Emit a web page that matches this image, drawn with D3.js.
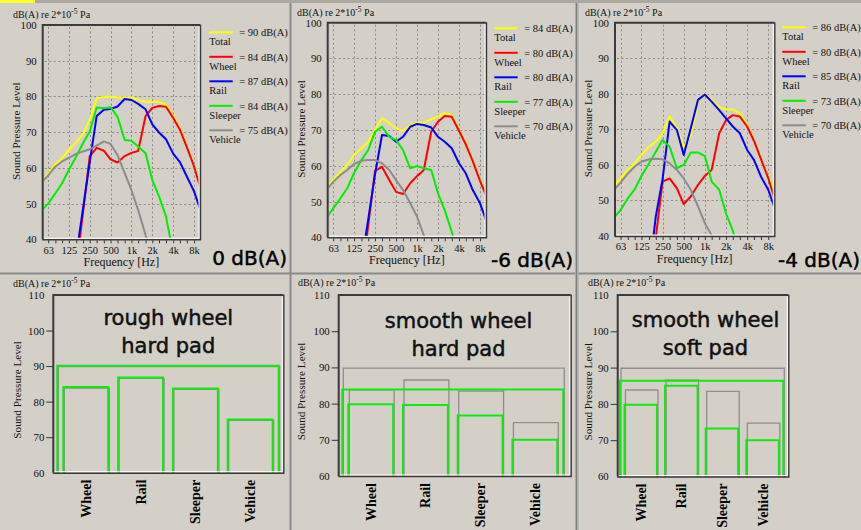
<!DOCTYPE html>
<html>
<head>
<meta charset="utf-8">
<script src="https://cdn.jsdelivr.net/npm/d3@7"></script>
<style>
  html, body { margin: 0; padding: 0; background: #d4d0c8; }
  svg { display: block; }
</style>
</head>
<body>
<svg id="chart" width="861" height="530"></svg>
<script>
// ---- data -------------------------------------------------------------
// third-octave band centre frequencies [Hz]
const bands = [50, 63, 80, 100, 125, 160, 200, 250, 315, 400, 500, 630, 800,
               1000, 1250, 1600, 2000, 2500, 3150, 4000, 5000, 6300, 8000, 10000];
const octaveTicks  = [63, 125, 250, 500, 1000, 2000, 4000, 8000];
const octaveLabels = ["63", "125", "250", "500", "1k", "2k", "4k", "8k"];
const spectrumLevels = [40, 50, 60, 70, 80, 90, 100];
const barLevels = [60, 70, 80, 90, 100, 110];

const sources = ["Total", "Wheel", "Rail", "Sleeper", "Vehicle"];
const barCategories = ["Wheel", "Rail", "Sleeper", "Vehicle"];

// band spectra, dB(A); null = below the plotted range
const roughHardTotal   = [55.6, 58.4, 61.0, 62.7, 65.0, 67.2, 69.4, 73.4, 79.5, 79.8, 80.0, 79.8, 79.7, 79.8, 79.0, 78.5, 78.5, 78.5, 77.6, 74.6, 71.2, 66.0, 60.6, 54.2];
const roughHardWheel   = [null, null, null, null, null, 32.0, 47.3, 63.2, 65.6, 64.8, 62.4, 61.5, 63.3, 64.2, 64.7, 74.5, 76.8, 77.3, 77.1, 74.0, 70.7, 65.8, 60.4, 54.0];
const roughHardRail    = [null, null, null, null, null, 35.5, 48.5, 61.5, 74.5, 76.3, 76.5, 77.2, 79.3, 79.0, 77.9, 76.4, 72.2, 69.9, 68.0, 64.0, 61.6, 57.6, 53.4, 48.0];
const roughHardSleeper = [48.0, 50.0, 52.9, 55.7, 59.4, 63.2, 66.9, 70.1, 76.9, 76.7, 77.0, 74.3, 67.8, 67.6, 66.0, 64.1, 56.6, 52.0, 46.4, 36.0, null, null, null, null];
const roughHardVehicle = [55.8, 57.9, 60.4, 61.8, 62.8, 63.9, 64.6, 65.2, 66.2, 67.4, 66.7, 63.6, 58.5, 53.8, 48.2, 41.2, 34.0, null, null, null, null, null, null, null];

const smoothHardTotal   = [53.6, 56.0, 58.3, 60.2, 63.0, 64.9, 66.7, 70.0, 73.3, 71.9, 70.5, 69.8, 71.4, 72.0, 72.0, 73.0, 73.7, 74.7, 74.2, 70.0, 66.3, 61.6, 56.0, 51.5];
const smoothHardWheel   = [null, null, null, null, null, 28.0, 43.3, 58.6, 59.7, 56.0, 52.7, 52.1, 55.1, 57.1, 58.8, 69.5, 72.3, 73.9, 73.7, 69.8, 66.0, 61.3, 55.8, 51.2];
const smoothHardRail    = [null, null, null, null, null, 33.0, 45.0, 57.5, 68.6, 68.3, 66.7, 68.1, 70.9, 71.7, 71.4, 70.7, 68.1, 66.7, 64.9, 60.7, 57.9, 53.2, 49.5, 44.2];
const smoothHardSleeper = [45.3, 48.1, 50.9, 53.7, 57.9, 61.6, 64.4, 69.5, 70.9, 68.1, 67.2, 64.4, 59.3, 59.9, 59.3, 58.8, 52.3, 47.6, 41.5, 35.0, null, null, null, null];
const smoothHardVehicle = [53.2, 55.5, 57.4, 58.8, 60.5, 61.4, 61.6, 61.6, 60.7, 58.8, 56.0, 53.2, 49.5, 45.8, 40.6, 34.0, null, null, null, null, null, null, null, null];

const smoothSoftTotal   = [53.8, 56.2, 58.6, 60.4, 62.8, 65.1, 66.5, 68.9, 73.6, 70.3, 65.1, 68.4, 77.8, 80.1, 78.3, 76.2, 75.6, 75.6, 74.5, 71.2, 67.0, 61.4, 56.7, 52.0];
const smoothSoftWheel   = [null, null, null, null, null, 25.0, 39.5, 55.3, 56.2, 53.4, 49.0, 51.1, 54.4, 56.9, 58.6, 68.9, 72.6, 74.0, 73.6, 70.8, 66.8, 61.6, 56.3, 50.0];
const smoothSoftRail    = [null, null, null, null, null, 29.0, 45.5, 56.0, 72.2, 69.8, 62.8, 70.3, 78.3, 79.8, 77.8, 75.4, 73.1, 70.8, 68.9, 64.2, 61.4, 56.7, 53.0, 47.5];
const smoothSoftSleeper = [45.0, 47.3, 50.6, 53.1, 56.9, 60.4, 63.7, 67.0, 65.1, 59.0, 60.0, 63.5, 63.5, 62.5, 55.3, 53.0, 46.4, 41.5, 35.0, null, null, null, null, null];
const smoothSoftVehicle = [52.8, 55.0, 57.6, 59.5, 60.9, 61.6, 61.7, 61.6, 60.4, 58.6, 56.2, 53.0, 48.3, 43.6, 40.2, 34.0, null, null, null, null, null, null, null, null];

// overall levels, dB(A): Total, Wheel, Rail, Sleeper, Vehicle
const roughHardLevels  = [90.1, 84.1, 86.8, 83.7, 75.0];
const smoothHardLevels = [83.9, 79.8, 79.6, 76.7, 70.0];
const smoothSoftLevels = [86.4, 79.8, 85.0, 73.2, 70.0];

const caseTitles = [["rough wheel", "hard pad"], ["smooth wheel", "hard pad"], ["smooth wheel", "soft pad"]];

// ---- styling ----------------------------------------------------------
const W = 861, H = 530;
const BG = "#d4d0c8";
const serif = "'Liberation Serif', 'Times New Roman', serif";
const sans = "'DejaVu Sans', Verdana, sans-serif";
const sourceColors = ["#ffff00", "#ff0000", "#0000ff", "#00ee00", "#8c8c8c"];
const barGreen = "#10e810";
const barGray = "#8e8e8e";

const svg = d3.select("#chart");

// window background and panel separators
svg.append("rect").attr("width", W).attr("height", H).attr("fill", BG);
svg.append("rect").attr("width", W).attr("height", 3).attr("fill", "#aca8a2");
svg.append("rect").attr("width", 35).attr("height", 3).attr("fill", "#ffff30");
svg.append("rect").attr("x", 0).attr("y", 272.5).attr("width", W).attr("height", 2).attr("fill", "#8a8a8a");
svg.append("rect").attr("x", 289.5).attr("y", 3).attr("width", 2).attr("height", H).attr("fill", "#8a8a8a");
svg.append("rect").attr("x", 575).attr("y", 3).attr("width", 3.5).attr("height", H).attr("fill", "#aaaaaa");
svg.append("rect").attr("x", 576).attr("y", 3).attr("width", 1).attr("height", H).attr("fill", "#808080");

function sunkenFrame(g, x0, y0, x1, y1) {
  g.append("path").attr("d", `M${x0},${y1}V${y0}H${x1}`)
    .attr("fill", "none").attr("stroke", "#3a3a3a").attr("stroke-width", 2);
  g.append("path").attr("d", `M${x0 + 1.5},${y1 - 1}H${x1 - 1}V${y0 + 1.5}`)
    .attr("fill", "none").attr("stroke", "#ffffff").attr("stroke-width", 1);
  g.append("path").attr("d", `M${x0 - 0.5},${y1 + 0.5}H${x1 + 0.5}V${y0 - 0.5}`)
    .attr("fill", "none").attr("stroke", "#3a3a3a").attr("stroke-width", 1.4);
}

function unitHeader(g, x, y) {
  const t = g.append("text").attr("x", x).attr("y", y)
    .attr("font-family", serif).attr("font-size", 10).attr("fill", "#111");
  t.append("tspan").text("dB(A) re 2*10");
  t.append("tspan").attr("dy", -4).attr("font-size", 7.5).text("-5");
  t.append("tspan").attr("dy", 4).text(" Pa");
}

function yTitle(g, x, y) {
  g.append("text")
    .attr("transform", `translate(${x},${y}) rotate(-90)`)
    .attr("text-anchor", "middle").attr("dy", "0.35em")
    .attr("font-family", serif).attr("font-size", 11.2).attr("fill", "#111")
    .text("Sound Pressure Level");
}

// ---- spectrum panels ---------------------------------------------------
const spectrumPanels = [
  { spectra: [roughHardTotal, roughHardWheel, roughHardRail, roughHardSleeper, roughHardVehicle],
    levels: roughHardLevels, frame: [42.7, 25, 200, 239.3],
    header: [13, 17.5], titleX: 16, legend: [209.3, 32.3], tag: [287, 265] },
  { spectra: [smoothHardTotal, smoothHardWheel, smoothHardRail, smoothHardSleeper, smoothHardVehicle],
    levels: smoothHardLevels, frame: [327.7, 22.7, 486, 237.3],
    header: [297, 15.5], titleX: 301, legend: [494.3, 28.3], tag: [573, 266.5] },
  { spectra: [smoothSoftTotal, smoothSoftWheel, smoothSoftRail, smoothSoftSleeper, smoothSoftVehicle],
    levels: smoothSoftLevels, frame: [615, 22.7, 774.3, 236],
    header: [585, 15.5], titleX: 588, legend: [782.3, 27.3], tag: [860, 266.5] }
];

const referenceTotal = roughHardLevels[0];

spectrumPanels.forEach((p, k) => {
  const [x0, y0, x1, y1] = p.frame;
  const x = d3.scaleLog().domain([52.5, 9750]).range([x0, x1]);
  const y = d3.scaleLinear().domain([40, 100]).range([y1, y0]);
  const g = svg.append("g");

  unitHeader(g, p.header[0], p.header[1]);

  // dashed grid
  const grid = g.append("g").attr("stroke", "#8a8a8a").attr("stroke-width", 1)
    .attr("stroke-dasharray", "2,2.5");
  grid.selectAll("line.v").data(octaveTicks).join("line").attr("class", "v")
    .attr("x1", d => Math.round(x(d)) + 0.5).attr("x2", d => Math.round(x(d)) + 0.5)
    .attr("y1", y0 + 2).attr("y2", y1);
  grid.selectAll("line.h").data(spectrumLevels.slice(1, -1)).join("line").attr("class", "h")
    .attr("x1", x0 + 2).attr("x2", x1)
    .attr("y1", d => Math.round(y(d)) + 0.5).attr("y2", d => Math.round(y(d)) + 0.5);

  // spectra
  const clipId = `plot-clip-${k}`;
  g.append("clipPath").attr("id", clipId).append("rect")
    .attr("x", x0 + 1).attr("y", y0 + 1).attr("width", x1 - x0 - 2).attr("height", y1 - y0 - 2);
  const line = d3.line().defined(d => d[1] != null).x(d => x(d[0])).y(d => y(d[1]));
  g.append("g").attr("clip-path", `url(#${clipId})`)
    .selectAll("path").data(p.spectra).join("path")
    .attr("d", s => line(bands.map((f, i) => [f, s[i]])))
    .attr("fill", "none")
    .attr("stroke", (s, i) => sourceColors[i])
    .attr("stroke-width", 2)
    .attr("stroke-linejoin", "round");

  sunkenFrame(g, x0, y0, x1, y1);

  // frequency axis: third-octave ticks, octave labels
  const xAxis = d3.axisBottom(x).tickValues(bands.filter(f => f > 52.5 && f < 9750))
    .tickSize(3).tickPadding(3)
    .tickFormat(f => { const i = octaveTicks.indexOf(f); return i >= 0 ? octaveLabels[i] : ""; });
  const xa = g.append("g").attr("transform", `translate(0,${y1 + 1})`).call(xAxis);
  xa.select(".domain").remove();
  xa.selectAll("line").attr("stroke", "#333");
  xa.selectAll("text").attr("font-family", serif).attr("font-size", 10.5).attr("fill", "#111");

  const yAxis = d3.axisLeft(y).tickValues(spectrumLevels).tickSize(0).tickPadding(6);
  const ya = g.append("g").attr("transform", `translate(${x0},0)`).call(yAxis);
  ya.select(".domain").remove();
  ya.selectAll("text").attr("font-family", serif).attr("font-size", 10.8).attr("fill", "#111");

  yTitle(g, p.titleX, (y0 + y1) / 2 - 1);
  g.append("text").attr("x", (x0 + x1) / 2).attr("y", y1 + 26.5)
    .attr("text-anchor", "middle").attr("font-family", serif).attr("font-size", 12).attr("fill", "#111")
    .text("Frequency [Hz]");

  // legend
  const [lx, ly] = p.legend;
  const lg = g.append("g").selectAll("g").data(sources).join("g")
    .attr("transform", (d, i) => `translate(${lx},${ly + i * 24.5})`);
  lg.append("line").attr("x1", 0).attr("x2", 23.4).attr("y1", 0).attr("y2", 0)
    .attr("stroke", (d, i) => sourceColors[i]).attr("stroke-width", 2);
  lg.append("text").attr("x", 30).attr("y", 3.8)
    .attr("font-family", serif).attr("font-size", 10.5).attr("fill", "#111")
    .text((d, i) => `= ${Math.round(p.levels[i])} dB(A)`);
  lg.append("text").attr("x", 0).attr("y", 13.2)
    .attr("font-family", serif).attr("font-size", 10.5).attr("fill", "#111")
    .text(d => d);

  // change of total level against the reference case
  const delta = Math.round(p.levels[0] - referenceTotal);
  g.append("text").attr("x", p.tag[0]).attr("y", p.tag[1]).attr("text-anchor", "end")
    .attr("font-family", sans).attr("font-size", 20).attr("fill", "#000")
    .attr("stroke", "#000").attr("stroke-width", 0.45)
    .text(`${delta} dB(A)`);
});

// ---- overall level bar panels -----------------------------------------
const barPanels = [
  { levels: roughHardLevels, frame: [53.3, 295, 283.3, 472.7], band: [57.3, 278.7], pad: 0.18,
    header: [13, 286.5], titleX: 17, titleCx: 168.3, titleY: [325, 352.7] },
  { levels: smoothHardLevels, frame: [338.7, 295, 570.7, 476], band: [342.3, 563.3], pad: 0.18,
    header: [298, 286], titleX: 301, titleCx: 458.5, titleY: [328.3, 356] },
  { levels: smoothSoftLevels, frame: [617.7, 295, 788.3, 476.5], band: [620, 783.3], pad: 0.2,
    header: [588, 285.5], titleX: 588, titleCx: 705.5, titleY: [326.7, 355] }
];

barPanels.forEach((p, k) => {
  const [x0, y0, x1, y1] = p.frame;
  const y = d3.scaleLinear().domain([60, 110]).range([y1, y0]);
  const xb = d3.scaleBand().domain(barCategories).range(p.band)
    .paddingInner(p.pad).paddingOuter(0.11);
  const g = svg.append("g");

  unitHeader(g, p.header[0], p.header[1]);

  // title inside the plot
  caseTitles[k].forEach((t, i) => {
    g.append("text").attr("x", p.titleCx).attr("y", p.titleY[i]).attr("text-anchor", "middle")
      .attr("font-family", sans).attr("font-size", 21).attr("fill", "#111")
      .attr("stroke", "#111").attr("stroke-width", 0.5).text(t);
  });

  const base = y(60);
  const openBar = (xa, xz, v) => `M${xa},${base}V${y(v)}H${xz}V${base}`;
  const barsOf = levels => [
    { x0: p.band[0], x1: p.band[1], v: levels[0] },
    ...barCategories.map((c, i) => ({ x0: xb(c), x1: xb(c) + xb.bandwidth(), v: levels[i + 1] }))
  ];

  // reference case (rough wheel, hard pad) in gray, current case in green
  g.append("g").selectAll("path").data(barsOf(roughHardLevels)).join("path")
    .attr("d", d => openBar(d.x0 + 1, d.x1 + 1, d.v))
    .attr("transform", "translate(0,1)")
    .attr("fill", "none").attr("stroke", barGray).attr("stroke-width", 1.3);
  g.append("g").selectAll("path").data(barsOf(p.levels)).join("path")
    .attr("d", d => openBar(d.x0, d.x1, d.v))
    .attr("fill", "none").attr("stroke", barGreen).attr("stroke-width", 2);

  sunkenFrame(g, x0, y0, x1, y1);

  const yAxis = d3.axisLeft(y).tickValues(barLevels).tickSize(7).tickPadding(2);
  const ya = g.append("g").attr("transform", `translate(${x0},0)`).call(yAxis);
  ya.select(".domain").remove();
  ya.selectAll(".tick line").attr("stroke", "#333")
    .attr("opacity", d => (d === 60 || d === 110) ? 0 : 1);
  ya.selectAll("text").attr("font-family", serif).attr("font-size", 10.8).attr("fill", "#111");

  yTitle(g, p.titleX, (y0 + y1) / 2 + 6);

  const xAxis = d3.axisBottom(xb).tickSize(0);
  const xa = g.append("g").attr("transform", `translate(0,${y1})`).call(xAxis);
  xa.select(".domain").remove();
  xa.selectAll("text")
    .attr("transform", "rotate(-90)")
    .attr("x", -7).attr("y", 0).attr("dy", "0.36em")
    .attr("text-anchor", "end")
    .attr("font-family", serif).attr("font-size", 14).attr("font-weight", "bold").attr("fill", "#000");
});
</script>
</body>
</html>
